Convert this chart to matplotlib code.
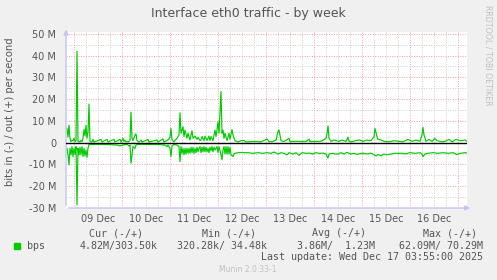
import matplotlib
matplotlib.use("Agg")
import matplotlib.pyplot as plt
import pandas as pd

START = pd.Timestamp("2025-12-08 20:30")
END = pd.Timestamp("2025-12-17 04:30")

# outgoing traffic (Mbit/s), hours after START
out_hours = [0, 0.5, 1, 1.5, 2, 2.5, 3, 3.5, 4, 4.5, 5, 5.5, 6.5, 7, 7.5, 8, 8.5, 9, 9.5, 10,
             10.5, 11, 11.5, 12.5, 13, 13.5, 17, 17.5, 20, 20.5, 23.5, 24, 26.5, 27, 28, 28.5,
             29, 29.5, 31, 31.5, 32, 32.5, 33, 34, 34.5, 35, 36, 37, 37.5, 40.5, 41, 45, 45.5,
             48, 48.5, 50.5, 51.5, 52, 52.5, 53.5, 55, 56, 56.5, 57, 58, 58.5, 59, 60, 60.5,
             61.5, 62.5, 63, 64, 65, 65.5, 66.5, 67, 67.5, 68.5, 69, 70, 71, 71.5, 72, 73, 74,
             74.5, 75, 75.5, 76, 76.5, 77, 77.5, 78, 78.5, 79, 80, 81, 81.5, 82.5, 83, 84, 85.5,
             87, 88.5, 89.5, 94, 97, 99, 100, 100.5, 101, 103, 104.5, 105.5, 106, 107, 108.5,
             111, 111.5, 114.5, 119.5, 121, 121.5, 124.5, 127, 129.5, 130, 130.5, 131, 132,
             133.5, 134.5, 136, 137.5, 139.5, 140.5, 141, 142.5, 144.5, 146.5, 148, 150, 152,
             153.5, 154, 155, 155.5, 157, 158.5, 161, 163.5, 166, 168, 170.5, 172.5, 174.5,
             176.5, 177.5, 178, 178.5, 179.5, 181, 182.5, 184, 185, 187.5, 189, 191, 192.5,
             194.5, 196.5, 199, 200]
out_mbps = [6.5, 2.5, 8.0, 2.0, 0.5, 1.0, 0.8, 2.0, 0.5, 1.0, 42.0, 0.5, 0.3, 1.0, 0.5, 2.0, 6.0,
            3.0, 8.0, 2.0, 5.0, 17.7, 0.5, 0.3, 1.5, 0.3, 1.5, 0.3, 1.5, 0.3, 1.5, 0.3, 1.5, 0.3,
            2.0, 0.5, 1.2, 0.4, 0.5, 1.0, 14.0, 2.0, 1.0, 3.5, 4.0, 1.0, 0.2, 1.2, 0.3, 1.5, 0.3,
            1.2, 0.3, 1.7, 0.3, 1.2, 2.5, 6.5, 1.2, 0.4, 2.0, 3.5, 13.7, 4.3, 7.3, 2.8, 5.8, 2.0,
            4.3, 1.2, 5.5, 2.0, 3.0, 1.5, 2.5, 1.0, 1.2, 2.8, 0.9, 3.0, 1.0, 3.0, 1.0, 2.8, 0.9,
            5.8, 2.8, 5.8, 9.6, 4.3, 13.5, 23.4, 4.3, 5.8, 2.0, 4.3, 1.0, 4.3, 1.5, 6.0, 3.5, 0.9,
            0.3, 0.9, 1.0, 0.3, 0.6, 0.4, 1.2, 1.7, 1.2, 0.4, 0.6, 1.2, 5.0, 5.8, 0.9, 0.5, 2.0,
            0.5, 0.6, 0.6, 1.5, 0.5, 0.6, 0.6, 2.0, 4.0, 7.7, 2.0, 0.6, 1.2, 1.0, 0.6, 1.2, 0.6,
            2.5, 0.6, 0.4, 1.0, 1.2, 0.6, 1.2, 0.9, 2.8, 6.5, 2.8, 1.5, 1.2, 0.6, 0.4, 0.9, 0.6,
            0.4, 1.5, 0.6, 1.2, 0.6, 3.5, 7.0, 3.5, 0.6, 1.5, 0.6, 2.0, 0.9, 0.4, 0.6, 1.5, 0.4,
            1.5, 0.9, 1.2, 0.6]

# incoming traffic (Mbit/s, drawn negative), hours after START
in_hours = [0, 0.5, 1, 1.5, 2, 2.5, 3, 3.5, 4, 4.5, 5, 5.5, 6, 6.5, 7, 7.5, 8, 8.5, 9, 9.5, 10,
            10.5, 11, 16.5, 21.5, 25, 26.5, 28.5, 30, 31, 31.5, 32, 33, 34, 34.5, 35.5, 41.5,
            46.5, 49, 50, 50.5, 51.5, 52, 52.5, 53.5, 55, 56, 56.5, 57, 57.5, 58, 58.5, 59, 59.5,
            60, 60.5, 61, 61.5, 62, 62.5, 63, 63.5, 64, 64.5, 65, 65.5, 66, 66.5, 67, 67.5, 68,
            68.5, 69, 69.5, 70, 70.5, 71, 71.5, 72, 72.5, 73, 73.5, 74, 75, 75.5, 76, 77, 77.5,
            78, 78.5, 79, 79.5, 80, 80.5, 81, 81.5, 82, 83, 83.5, 84, 85.5, 87, 89, 90.5, 93,
            95.5, 98, 100, 102, 103.5, 105.5, 107, 108.5, 110, 111, 113, 114.5, 116, 117.5,
            119.5, 121, 123, 124.5, 126, 128, 129.5, 130.5, 131, 133, 134, 135.5, 137, 138.5,
            140, 142, 143.5, 145, 147, 148.5, 150, 152, 153.5, 154.5, 155.5, 157, 158.5, 160,
            162, 163.5, 166, 168, 169, 171.5, 174, 176.5, 177.5, 178, 179, 180.5, 183, 185.5,
            188, 190.5, 193, 195, 196.5, 199, 200]
in_mbps = [-2.6, -5.6, -10.2, -2.6, -5.6, -1.8, -6.4, -2.6, -5.2, -1.8, -28.6, -2.6, -5.6, -2.1,
           -5.6, -1.8, -6.4, -2.6, -6.1, -3.4, -6.7, -2.6, -0.8, -0.8, -0.9, -1.1, -1.5, -1.0,
           -0.8, -1.5, -1.1, -9.5, -1.8, -2.6, -1.1, -0.8, -0.8, -0.9, -1.1, -1.8, -1.1, -2.6,
           -6.4, -1.5, -0.8, -1.1, -1.8, -8.7, -1.8, -4.9, -2.6, -5.6, -2.6, -5.2, -2.6, -4.9,
           -2.6, -4.9, -2.1, -4.6, -2.1, -4.9, -2.6, -4.6, -2.1, -4.2, -2.6, -1.8, -4.6, -2.1,
           -4.2, -1.8, -4.2, -2.1, -4.2, -2.6, -4.6, -2.1, -3.7, -1.8, -4.2, -2.1, -3.4, -1.8,
           -4.6, -1.8, -5.6, -7.9, -3.4, -1.8, -5.2, -1.8, -5.2, -1.8, -5.2, -2.1, -5.6, -6.4,
           -5.2, -4.9, -4.6, -4.5, -4.6, -4.6, -4.9, -4.6, -4.9, -4.6, -4.9, -4.3, -5.2, -4.6,
           -4.9, -5.6, -4.6, -5.2, -4.6, -5.8, -4.6, -4.9, -4.8, -5.2, -4.6, -4.9, -4.8, -5.2,
           -7.1, -5.2, -4.9, -5.2, -5.2, -4.6, -5.2, -4.5, -5.2, -4.9, -5.4, -4.9, -4.9, -5.2,
           -4.8, -5.6, -6.1, -5.4, -6.1, -5.2, -5.6, -5.2, -4.9, -4.9, -4.9, -5.2, -4.6, -4.9,
           -4.6, -5.2, -6.4, -5.2, -4.9, -4.6, -4.9, -4.6, -4.9, -4.6, -5.5, -4.9, -4.6, -4.8]

y_ticks = [-30, -20, -10, 0, 10, 20, 30, 40, 50]
y_labels = ["-30 M", "-20 M", "-10 M", "0", "10 M", "20 M", "30 M", "40 M", "50 M"]
legend_heads = ["Cur (-/+)", "Min (-/+)", "Avg (-/+)", "Max (-/+)"]
legend_values = ["4.82M/303.50k", "320.28k/ 34.48k", "3.86M/  1.23M", "62.09M/ 70.29M"]
last_update = "Last update: Wed Dec 17 03:55:00 2025"

GREEN = "#00CC00"
TEXT = "#555555"
MGRID = "#F2A0A0"
GRID = "#CCCCCC"
AXIS = "#C4C4F4"


def main() -> None:
    W, H = 497, 280
    fig = plt.figure(figsize=(W / 100, H / 100), dpi=100, facecolor="#F0F0F0")
    ax = fig.add_axes([66 / W, 1 - 208 / H, 401 / W, 176 / H])
    ax.set_facecolor("white")

    out_t = START + pd.to_timedelta(out_hours, unit="h")
    in_t = START + pd.to_timedelta(in_hours, unit="h")

    ax.set_xlim(START - pd.Timedelta(minutes=30), END)
    ax.set_ylim(-30, 50.8)

    dot = (0, (1, 1.5))
    midnights = pd.date_range("2025-12-09", "2025-12-17", freq="D")
    quarters = pd.date_range("2025-12-09 06:00", "2025-12-17 00:00", freq="6h")
    for t in quarters:
        if t.hour != 0:
            ax.axvline(t, color=GRID, lw=0.7, ls=dot, zorder=1)
    for v in range(-25, 50, 10):
        ax.axhline(v, color=GRID, lw=0.7, ls=dot, zorder=1)
    for t in midnights:
        ax.axvline(t, color=MGRID, lw=0.7, ls=dot, zorder=1)
    for v in y_ticks:
        ax.axhline(v, color=MGRID, lw=0.7, ls=dot, zorder=1)

    ax.plot(in_t, in_mbps, color=GREEN, lw=0.85, zorder=3)
    ax.plot(out_t, out_mbps, color=GREEN, lw=0.85, zorder=3)
    ax.axhline(0, color="black", lw=1.0, zorder=4)

    for s in ax.spines.values():
        s.set_visible(False)
    ax.annotate("", xy=(0, 1.03), xytext=(0, 0), xycoords="axes fraction",
                arrowprops=dict(arrowstyle="-|>", color=AXIS, lw=1, mutation_scale=7),
                annotation_clip=False)
    ax.annotate("", xy=(1.015, 0), xytext=(0, 0), xycoords="axes fraction",
                arrowprops=dict(arrowstyle="-|>", color=AXIS, lw=1, mutation_scale=7),
                annotation_clip=False)

    ax.set_yticks(y_ticks)
    ax.set_yticklabels(y_labels)
    noons = midnights[:-1] + pd.Timedelta(hours=12)
    ax.set_xticks(noons)
    ax.set_xticklabels([t.strftime("%d %b") for t in noons])
    ax.tick_params(axis="both", length=0, labelsize=7, colors=TEXT)
    ax.tick_params(axis="y", pad=7)
    ax.tick_params(axis="x", pad=4)

    fig.text(248 / W, 1 - 14 / H, "Interface eth0 traffic - by week", ha="center",
             va="center", fontsize=9, color=TEXT)
    fig.text(10 / W, 1 - 112 / H, "bits in (-) / out (+) per second", rotation=90,
             ha="center", va="center", fontsize=7.2, color=TEXT)
    fig.text(488 / W, 1 - 5 / H, "RRDTOOL / TOBI OETIKER", rotation=-90, ha="center",
             va="top", fontsize=5.7, color="#C0C0C0")

    mono = dict(family="DejaVu Sans Mono", fontsize=7.2, color=TEXT, va="center")
    for head, right in zip(legend_heads, [143, 256, 366, 477]):
        fig.text(right / W, 1 - 233 / H, head, ha="right", **mono)
    fig.patches.append(plt.Rectangle((14 / W, 1 - 249 / H), 6 / W, 6 / H,
                                     transform=fig.transFigure, color=GREEN))
    fig.text(27 / W, 1 - 246 / H, "bps", ha="left", **mono)
    for val, right in zip(legend_values, [158, 267, 375, 483]):
        fig.text(right / W, 1 - 246 / H, val, ha="right", **mono)
    fig.text(483 / W, 1 - 257.5 / H, last_update, ha="right", **mono)
    fig.text(248 / W, 1 - 269 / H, "Munin 2.0.33-1", ha="center", va="center",
             fontsize=5.5, color="#C0C0C0")

    fig.savefig("out.png", dpi=100, facecolor=fig.get_facecolor())
    plt.close(fig)


if __name__ == "__main__":
    main()
